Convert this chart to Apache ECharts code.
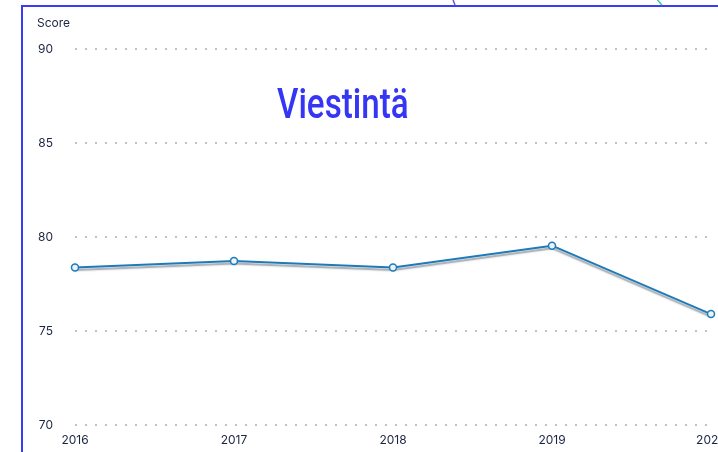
<!DOCTYPE html>
<html><head><meta charset="utf-8">
<script src="https://cdn.jsdelivr.net/npm/echarts@6/dist/echarts.min.js"></script>
<style>html,body{margin:0;padding:0;background:#fff}#c{width:718px;height:452px}</style>
</head><body><div id="c"></div>
<script>
const years = ['2016','2017','2018','2019','2020'];
const scores = [78.38, 78.72, 78.38, 79.54, 75.9];
const yTicks = [70, 75, 80, 85, 90];
const titleText = 'Viestintä';

const chart = echarts.init(document.getElementById('c'));
chart.setOption({
  animation: false,
  grid: {left: 75, right: 7, top: 49, bottom: 27, containLabel: false, outerBoundsMode: 'none'},
  graphic: [
    {type: 'polyline', shape: {points: [[22, 452], [22, 6], [718, 6]]}, style: {stroke: '#3b3bf7', lineWidth: 2, fill: null}},
    {type: 'bezierCurve', shape: {x1: 452, y1: -4, x2: 455, y2: 5, cpx1: 453, cpy1: 0}, style: {stroke: '#6a5acd', lineWidth: 1.5}},
    {type: 'bezierCurve', shape: {x1: 655, y1: -4, x2: 662, y2: 5, cpx1: 658, cpy1: 1}, style: {stroke: '#3cc8a0', lineWidth: 1.5}},
    {type: 'text', x: 277, y: 86, scaleX: 0.79, scaleY: 1,
      style: {text: titleText, fontFamily: 'Roboto', fontSize: 42, fontWeight: 500, fill: '#3535f5', align: 'left', verticalAlign: 'top'}}
  ],
  xAxis: {
    type: 'category', data: years, boundaryGap: false,
    axisLine: {show: false}, axisTick: {show: false},
    axisLabel: {color: '#1c2440', fontSize: 12, fontFamily: 'Inter', margin: 9}
  },
  yAxis: {
    type: 'value', min: 70, max: 90, interval: 5,
    name: 'Score', nameLocation: 'end', nameGap: 20,
    nameTextStyle: {color: '#1c2440', fontSize: 12, fontFamily: 'Inter', align: 'left', padding: [0, 0, 0, -38]},
    axisLine: {show: false}, axisTick: {show: false},
    axisLabel: {color: '#1c2440', fontSize: 12, fontFamily: 'Inter', margin: 22,
      formatter: v => yTicks.includes(v) ? String(v) : ''},
    splitLine: {lineStyle: {type: [2, 8], color: '#a8b0bc', width: 1.5}}
  },
  series: [{
    type: 'line', data: scores,
    symbol: 'circle', symbolSize: 7,
    itemStyle: {color: '#eaf2fb', borderColor: '#1f7ab8', borderWidth: 1.5},
    lineStyle: {color: '#1f7ab8', width: 2, shadowColor: 'rgba(110,120,130,0.7)', shadowOffsetY: 2.5, shadowBlur: 1.5}
  }]
});
</script></body></html>
